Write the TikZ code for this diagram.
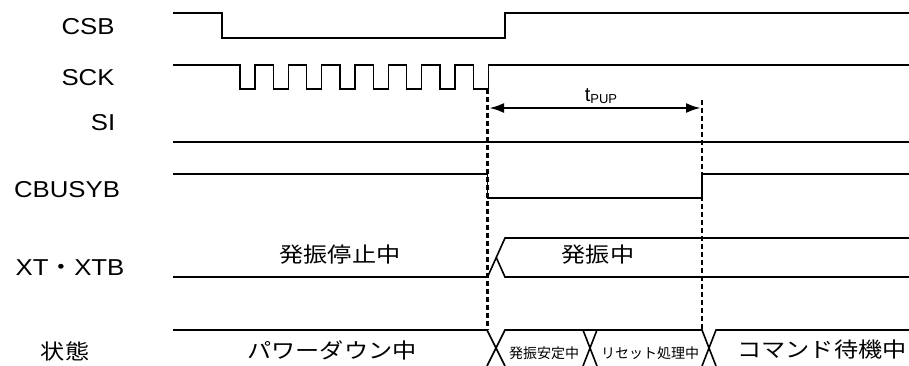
\documentclass[tikz,border=0pt]{standalone}
\usepackage{fontspec}
\setmainfont{Liberation Sans}
\newfontfamily\jp{Noto Sans CJK JP}
\usetikzlibrary{arrows.meta}
\newcommand{\wide}[1]{\scalebox{1.12}[1]{#1}}
\newcommand{\jwide}[1]{\scalebox{1.15}[1]{#1}}
\begin{document}
\begin{tikzpicture}[x=1pt,y=-1pt,
  sig/.style={line width=1.6pt},
  guide/.style={line width=2.4pt, dash pattern=on 5pt off 3pt},
  lbl/.style={font=\fontsize{23}{23}\selectfont, inner sep=0pt},
  jpl/.style={font=\jp\fontsize{21}{21}\selectfont, inner sep=0pt},
  jps/.style={font=\jp\fontsize{14}{14}\selectfont, inner sep=0pt},
  dim/.style={line width=2.6pt, {Latex[length=15pt,width=10pt]}-{Latex[length=15pt,width=10pt]}},
]
\useasboundingbox (0,0) rectangle (909,365);
% labels
\node[lbl] (lcsb) at (88,27) {\wide{CSB}};
\node[lbl] (lsck) at (88,78) {\wide{SCK}};
\node[lbl] (lsi) at (103,123) {\wide{SI}};
\node[lbl] (lcb) at (67,190) {\wide{CBUSYB}};
\node[lbl] (lxt) at (70,268) {\wide{XT{\jp ・}XTB}};
\node[jpl] (lst) at (65,351) {\jwide{状態}};
% CSB
\draw[sig] (173,13) -- (222,13) -- (222,38) -- (505,38) -- (505,13) -- (909,13);
% SCK
\draw[sig] (173,65) \foreach \i in {0,...,7}{ -- ({240+33.33*\i},65) -- ({240+33.33*\i},89) -- ({255+33.33*\i},89) -- ({255+33.33*\i},65) } -- (909,65);
% SI
\draw[sig] (173,142) -- (909,142);
% CBUSYB
\draw[sig] (173,174) -- (487.5,174) -- (487.5,198) -- (702,198) -- (702,174) -- (909,174);
% XT/XTB
\draw[sig] (173,277) -- (487.5,277) -- (505,238) -- (909,238);
\draw[sig] (496.25,257.5) -- (505,277) -- (909,277);
% state row
\draw[sig] (173,330) -- (487,330) -- (505,366);
\draw[sig] (487,366) -- (505,330) -- (702,330) -- (716,366);
\draw[sig] (702,366) -- (716,330) -- (909,330);
\draw[sig] (583,330) -- (597,366);
\draw[sig] (597,330) -- (583,366);
% guides
\coordinate (g1t) at (487.5,89);
\coordinate (g1b) at (487.5,330);
\coordinate (g2t) at (702,100);
\coordinate (g2b) at (702,330);
\draw[guide] (g1t) -- (g1b);
\draw[guide] (g2t) -- (g2b);
\coordinate (a1) at (489,108);
\coordinate (a2) at (701,108);
\draw[dim] (a1) -- (a2);
\node[inner sep=0pt, font=\fontsize{20}{20}\selectfont] (tpup) at (601,96) {t\raisebox{-2.5pt}{\fontsize{13}{13}\selectfont PUP}};
% texts
\node[jpl] (t1) at (340,255) {\jwide{発振停止中}};
\node[jpl] (t2) at (598,255) {\jwide{発振中}};
\node[jpl] (t3) at (332,350) {\jwide{パワーダウン中}};
\node[jps] (t4) at (544,353) {発振安定中};
\node[jps] (t5) at (650,353) {リセット処理中};
\node[jpl] (t6) at (822,350) {\jwide{コマンド待機中}};
\end{tikzpicture}
\end{document}
